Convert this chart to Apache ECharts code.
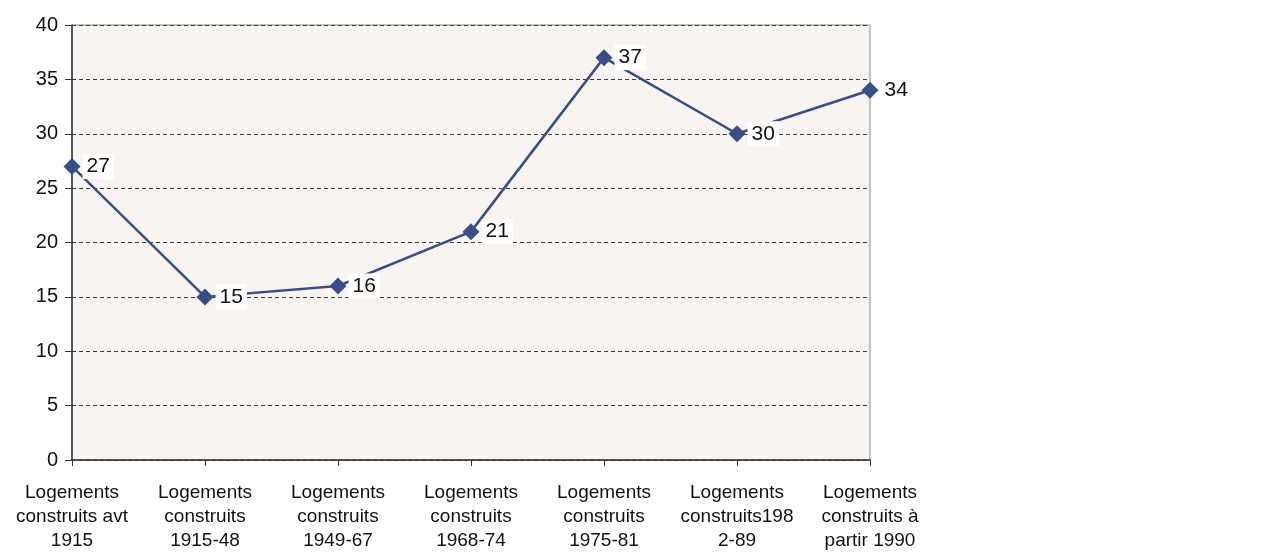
<!DOCTYPE html>
<html>
<head>
<meta charset="utf-8">
<script src="https://cdn.jsdelivr.net/npm/echarts@6/dist/echarts.min.js"></script>
<style>
  html, body { margin: 0; padding: 0; background: #ffffff; }
  #chart { width: 1267px; height: 556px; }
</style>
</head>
<body>
<div id="chart"></div>
<script>
// Share of dwellings by construction period
const categories = [
  'Logements\nconstruits avt\n1915',
  'Logements\nconstruits\n1915-48',
  'Logements\nconstruits\n1949-67',
  'Logements\nconstruits\n1968-74',
  'Logements\nconstruits\n1975-81',
  'Logements\nconstruits198\n2-89',
  'Logements\nconstruits à\npartir 1990'
];
const values = [27, 15, 16, 21, 37, 30, 34];
const yTicks = { min: 0, max: 40, interval: 5 };

const chart = echarts.init(document.getElementById('chart'));
const font = 'Liberation Sans, Arial, sans-serif';

chart.setOption({
  animation: false,
  grid: {
    left: 72, right: 397, top: 25, bottom: 96,
    show: true,
    backgroundColor: '#f7f4f1',
    borderColor: '#8a8a8a',
    borderWidth: 1
  },
  xAxis: {
    type: 'category',
    data: categories,
    boundaryGap: false,
    axisLine: { lineStyle: { color: '#333333', width: 1.5 } },
    axisTick: { show: true, length: 6, lineStyle: { color: '#333333' } },
    axisLabel: {
      color: '#111111', fontFamily: font, fontSize: 19, lineHeight: 24,
      margin: 21, interval: 0
    },
    splitLine: { show: false }
  },
  yAxis: {
    type: 'value',
    min: yTicks.min, max: yTicks.max, interval: yTicks.interval,
    axisLine: { show: true, lineStyle: { color: '#333333', width: 1.5 } },
    axisTick: { show: true, length: 7, lineStyle: { color: '#333333' } },
    axisLabel: { color: '#111111', fontFamily: font, fontSize: 20, margin: 14 },
    splitLine: { show: true, lineStyle: { color: '#3a3a3a', type: [4, 3], width: 1 } }
  },
  series: [{
    type: 'line',
    data: values,
    symbol: 'diamond',
    symbolSize: 17,
    lineStyle: { color: '#3a4e86', width: 2.5 },
    itemStyle: { color: '#3a4e86' },
    label: {
      show: true,
      position: 'right',
      distance: 2,
      color: '#111111',
      fontFamily: font,
      fontSize: 21,
      backgroundColor: '#ffffff',
      padding: [3, 4, 1, 4]
    },
    z: 3
  }]
});
</script>
</body>
</html>
